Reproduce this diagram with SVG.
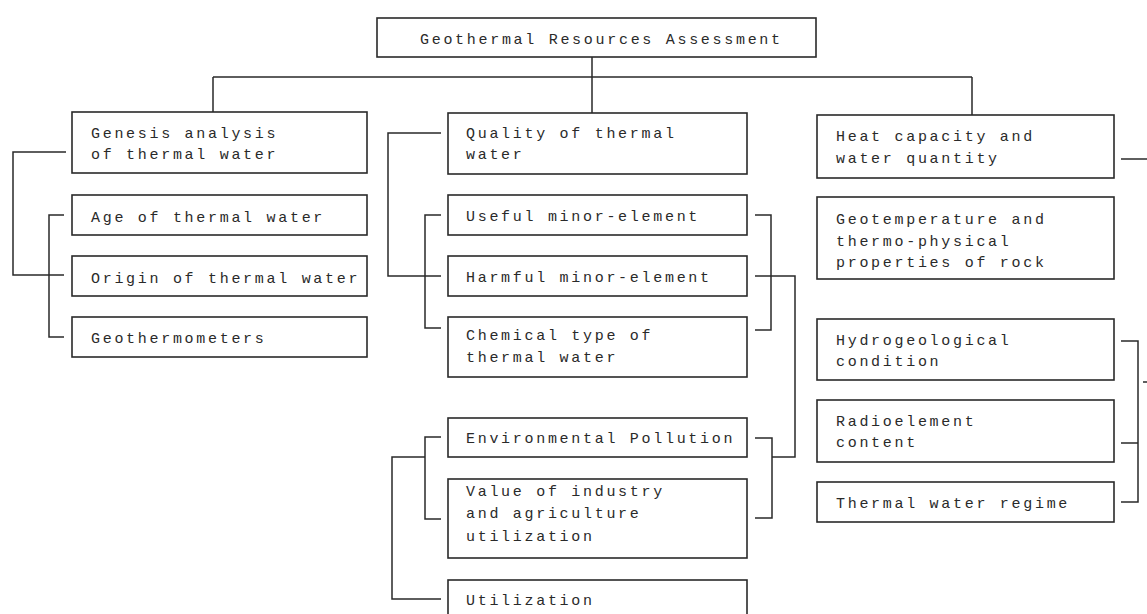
<svg xmlns="http://www.w3.org/2000/svg" width="1147" height="614" viewBox="0 0 1147 614">
<style>
.box{fill:#fff;stroke:#2a2a2a;stroke-width:1.6}
.t{font-family:"Liberation Mono","DejaVu Sans Mono",monospace;font-size:15px;letter-spacing:2.7px;fill:#2a2a2a}
.c{fill:none;stroke:#2a2a2a;stroke-width:1.5}
</style>
<rect width="1147" height="614" fill="#fff"/>
<g id="connectors" class="c">
<path d="M592 57 V77 M213 77 H972 M213 77 V112 M592 77 V113 M972 77 V115"/>
<path d="M66 152 H13 V275 H64"/>
<path d="M64 215 H49 V337 H64"/>
<path d="M441 133 H388 V276 H441"/>
<path d="M441 215 H425 V328 H441"/>
<path d="M441 437 H425 V519 H441"/>
<path d="M425 457 H392 V599 H441"/>
<path d="M755 215 H771 V330 H755"/>
<path d="M755 276 H795 V457 H772"/>
<path d="M755 438 H772 V518 H755"/>
<path d="M1121 159 H1147"/>
<path d="M1121 341 H1138 V502 H1121 M1121 443 H1138"/>
<path d="M1143 382 H1147"/>
</g>
<g id="root"><rect class="box" x="377" y="18" width="439" height="39"/><text class="t" x="420" y="44">Geothermal Resources Assessment</text></g>
<g id="genesis"><rect class="box" x="72" y="112" width="295" height="61"/><text class="t" x="91" y="138">Genesis analysis</text><text class="t" x="91" y="159">of thermal water</text></g>
<g id="age"><rect class="box" x="72" y="195" width="295" height="40"/><text class="t" x="91" y="222">Age of thermal water</text></g>
<g id="origin"><rect class="box" x="72" y="256" width="295" height="40"/><text class="t" x="91" y="283">Origin of thermal water</text></g>
<g id="geothermometers"><rect class="box" x="72" y="317" width="295" height="40"/><text class="t" x="91" y="343">Geothermometers</text></g>
<g id="quality"><rect class="box" x="448" y="113" width="299" height="61"/><text class="t" x="466" y="138">Quality of thermal</text><text class="t" x="466" y="159">water</text></g>
<g id="useful"><rect class="box" x="448" y="195" width="299" height="40"/><text class="t" x="466" y="221">Useful minor-element</text></g>
<g id="harmful"><rect class="box" x="448" y="256" width="299" height="40"/><text class="t" x="466" y="282">Harmful minor-element</text></g>
<g id="chemical"><rect class="box" x="448" y="317" width="299" height="60"/><text class="t" x="466" y="340">Chemical type of</text><text class="t" x="466" y="362">thermal water</text></g>
<g id="environmental"><rect class="box" x="448" y="418" width="299" height="39"/><text class="t" x="466" y="443">Environmental Pollution</text></g>
<g id="value"><rect class="box" x="448" y="479" width="299" height="79"/><text class="t" x="466" y="496">Value of industry</text><text class="t" x="466" y="518">and agriculture</text><text class="t" x="466" y="541">utilization</text></g>
<g id="utilization"><rect class="box" x="448" y="580" width="299" height="50"/><text class="t" x="466" y="605">Utilization</text></g>
<g id="heat"><rect class="box" x="817" y="115" width="297" height="63"/><text class="t" x="836" y="141">Heat capacity and</text><text class="t" x="836" y="163">water quantity</text></g>
<g id="geotemperature"><rect class="box" x="817" y="197" width="297" height="82"/><text class="t" x="836" y="224">Geotemperature and</text><text class="t" x="836" y="246">thermo-physical</text><text class="t" x="836" y="267">properties of rock</text></g>
<g id="hydrogeological"><rect class="box" x="817" y="319" width="297" height="61"/><text class="t" x="836" y="345">Hydrogeological</text><text class="t" x="836" y="366">condition</text></g>
<g id="radioelement"><rect class="box" x="817" y="400" width="297" height="62"/><text class="t" x="836" y="426">Radioelement</text><text class="t" x="836" y="447">content</text></g>
<g id="regime"><rect class="box" x="817" y="482" width="297" height="40"/><text class="t" x="836" y="508">Thermal water regime</text></g>
</svg>
